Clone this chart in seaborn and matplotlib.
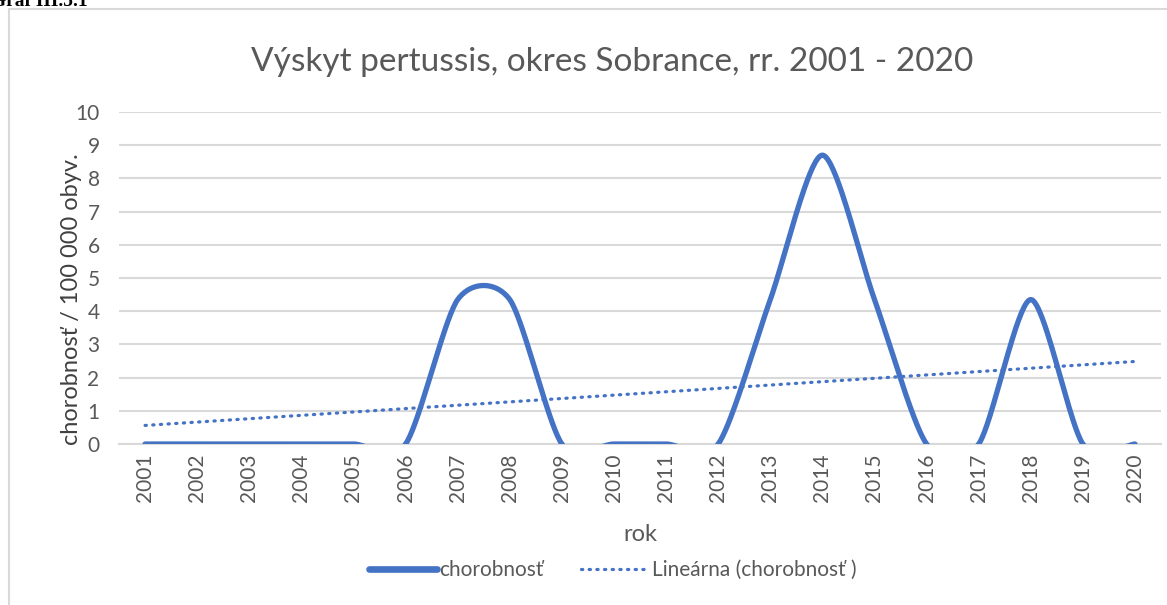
import numpy as np
import pandas as pd
import matplotlib
matplotlib.use("Agg")
import matplotlib.pyplot as plt
import seaborn as sns
from matplotlib.lines import Line2D
from matplotlib.patches import Rectangle

years = [2001, 2002, 2003, 2004, 2005, 2006, 2007, 2008, 2009, 2010,
         2011, 2012, 2013, 2014, 2015, 2016, 2017, 2018, 2019, 2020]
chorobnost = [0, 0, 0, 0, 0, 0, 4.35, 4.35, 0, 0,
              0, 0, 4.35, 8.7, 4.35, 0, 0, 4.35, 0, 0]
title = "Výskyt pertussis, okres Sobrance, rr. 2001 - 2020"
ylabel = "chorobnosť / 100 000 obyv."
xlabel = "rok"
series_label = "chorobnosť"
trend_label = "Lineárna (chorobnosť )"

sns.set_theme(style="white")
plt.rcParams['font.family'] = ['Lato', 'DejaVu Sans']

BLUE = "#4472C4"
GRAY = "#595959"
GRID = "#D9D9D9"

x = np.arange(1, len(years) + 1, dtype=float)
y = np.array(chorobnost, dtype=float)

# Excel-like smoothed line (Bezier through points, Catmull-Rom style controls)
def smooth(xs, ys, k=0.13, n=40):
    px = np.concatenate([[xs[0]], xs, [xs[-1]]])
    py = np.concatenate([[ys[0]], ys, [ys[-1]]])
    outx, outy = [], []
    t = np.linspace(0, 1, n)
    for i in range(1, len(px) - 2):
        p0 = np.array([px[i - 1], py[i - 1]]); p1 = np.array([px[i], py[i]])
        p2 = np.array([px[i + 1], py[i + 1]]); p3 = np.array([px[i + 2], py[i + 2]])
        c1 = p1 + (p2 - p0) * k
        c2 = p2 - (p3 - p1) * k
        b = ((1 - t) ** 3)[:, None] * p1 + (3 * (1 - t) ** 2 * t)[:, None] * c1 \
            + (3 * (1 - t) * t ** 2)[:, None] * c2 + (t ** 3)[:, None] * p2
        outx.extend(b[:, 0]); outy.extend(b[:, 1])
    return np.array(outx), np.array(outy)

sx, sy = smooth(x, y)
coef = np.polyfit(x, y, 1)
trend = np.polyval(coef, x)

df_s = pd.DataFrame({"x": sx, "y": sy})
df_t = pd.DataFrame({"x": x, "y": trend})

fig = plt.figure(figsize=(11.67, 6.05), dpi=100)
ax = fig.add_axes([0.102, 0.2661, 0.8929, 0.5488])

sns.lineplot(data=df_s, x="x", y="y", ax=ax, color=BLUE, linewidth=3.8,
             sort=False, estimator=None, solid_capstyle="round", zorder=3)
sns.lineplot(data=df_t, x="x", y="y", ax=ax, color=BLUE, linewidth=2.3,
             linestyle=(0, (0.4, 2.0)), dash_capstyle="round", zorder=3)

ax.set_xlim(0.5, len(years) + 0.5)
ax.set_ylim(0, 10)
ax.set_yticks(range(0, 11))
ax.set_xticks(x)
ax.set_xticklabels([str(v) for v in years], rotation=90)
ax.grid(axis="y", color=GRID, linewidth=1.5)
ax.set_axisbelow(True)
for s in ["top", "right", "left"]:
    ax.spines[s].set_visible(False)
ax.spines["bottom"].set_color(GRID)
ax.spines["bottom"].set_linewidth(1.5)
ax.tick_params(axis="both", length=0, labelsize=15, colors=GRAY)
ax.tick_params(axis="x", pad=7)
ax.tick_params(axis="y", pad=14)
ax.set_xlabel(xlabel, fontsize=17, color=GRAY, labelpad=16)
ax.set_ylabel(ylabel, fontsize=17, color="#404040")
ax.yaxis.set_label_coords(-0.036, 0.437)

fig.text(0.5245, 0.898, title, ha="center", va="center", fontsize=24, color=GRAY)

handles = [Line2D([], [], color=BLUE, linewidth=4.8, solid_capstyle="round"),
           Line2D([], [], color=BLUE, linewidth=2.3, linestyle=(0, (0.4, 2.0)),
                  dash_capstyle="round")]
fig.legend(handles, [series_label, trend_label], loc="center",
           bbox_to_anchor=(0.525, 0.058), ncol=2, frameon=False,
           fontsize=15, labelcolor=GRAY, handlelength=3.3, handletextpad=0.1,
           columnspacing=1.8)

fig.patches.append(Rectangle((9 / 1167, -0.1), 1.2, 1 - 9 / 605 + 0.1,
                             transform=fig.transFigure, fill=False,
                             edgecolor="#D9D9D9", linewidth=1.5))
fig.text(-0.008, 1.012, "Graf III.5.1", ha="left", va="top", fontsize=14,
         fontweight="bold", family="Liberation Serif", color="black")

fig.savefig("out.png", dpi=100, facecolor="white")
